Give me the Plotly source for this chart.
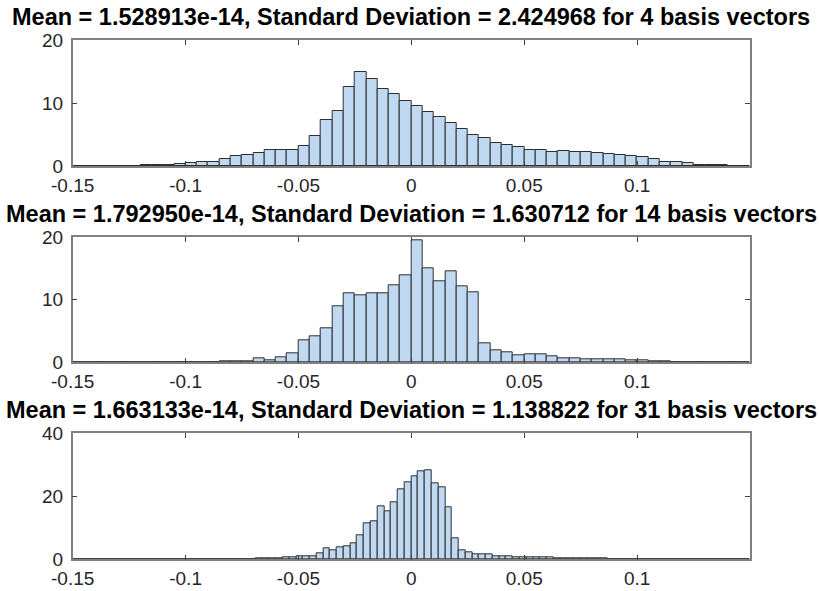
import numpy as np
import plotly.graph_objects as go
from plotly.subplots import make_subplots

# Histogram bin layout for each panel
bin_start = -0.15
bin_width_a = 0.005   # panels 1 and 2 (60 bins)
bin_width_b = 0.003   # panel 3 (100 bins)

# Bin counts (percent of samples) per panel
counts_4 = [0, 0, 0, 0, 0, 0, 0.1, 0.15, 0.2, 0.3,
            0.5, 0.6, 0.65, 1.1, 1.6, 1.8, 2.1, 2.5, 2.5, 2.5,
            3.2, 4.8, 7.3, 8.7, 12.6, 14.9, 13.8, 12.2, 11.4, 10.3,
            9.5, 8.5, 7.7, 6.8, 5.9, 5.0, 4.5, 3.65, 3.3, 3.0,
            2.6, 2.6, 2.3, 2.4, 2.2, 2.3, 2.1, 1.85, 1.8, 1.6,
            1.4, 1.05, 0.7, 0.6, 0.4, 0.2, 0.15, 0.1, 0, 0]

counts_14 = [0, 0, 0, 0, 0, 0, 0, 0, 0, 0,
             0, 0, 0.05, 0.1, 0.1, 0.2, 0.7, 0.4, 0.75, 1.5,
             3.5, 4.2, 5.4, 9.0, 11.1, 10.8, 11.0, 11.0, 12.4, 14.0,
             19.5, 15.0, 13.0, 14.5, 12.2, 11.2, 3.1, 2.0, 1.65, 1.2,
             1.25, 1.35, 1.0, 0.7, 0.65, 0.45, 0.55, 0.45, 0.45, 0.4,
             0.25, 0.15, 0.1, 0.05, 0.05, 0.05, 0.02, 0.02, 0, 0]

counts_31 = [0] * 22 + [
    0.05, 0.05, 0.1, 0.1, 0.15, 0.2, 0.2, 0.3, 0.4, 0.5,
    0.6, 1.0, 0.85, 0.85, 1.9, 3.5, 3.0, 3.8, 4.1, 5.0,
    7.5, 11.4, 12.2, 16.9, 15.3, 18.0, 22.2, 24.4,
    26.5, 27.8, 28.4, 24.0, 23.0, 16.5, 6.6, 3.0, 2.1, 1.5,
    1.5, 1.5, 1.05, 0.85, 0.85, 0.75, 0.7, 0.6, 0.55, 0.5,
    0.5, 0.45, 0.4, 0.4, 0.35, 0.3, 0.3, 0.25, 0.2, 0.15,
    0.1, 0.1, 0.05, 0.05, 0.02, 0.02, 0.02] + [0] * 13

titles = [
    "Mean = 1.528913e-14, Standard Deviation = 2.424968 for 4 basis vectors",
    "Mean = 1.792950e-14, Standard Deviation = 1.630712 for 14 basis vectors",
    "Mean = 1.663133e-14, Standard Deviation = 1.138822 for 31 basis vectors",
]

x_ticks = [-0.15, -0.1, -0.05, 0, 0.05, 0.1]
x_tick_text = ["-0.15", "-0.1", "-0.05", "0", "0.05", "0.1"]
y_ranges = [[0, 20], [0, 20], [0, 40]]
y_ticks = [[0, 10, 20], [0, 10, 20], [0, 20, 40]]

panels = [(counts_4, bin_width_a), (counts_14, bin_width_a), (counts_31, bin_width_b)]

FILL = "#bfd9f2"
EDGE = "#2e2e2e"
AXIS = "#808080"
FONT = "Liberation Sans, Arial, sans-serif"

W, H = 819, 591
x_dom = [72.7 / W, 750 / W]
y_boxes = [(40, 166), (237.3, 362.3), (433.3, 559.3)]

fig = make_subplots(rows=3, cols=1)

for i, (counts, bw) in enumerate(panels):
    centers = bin_start + bw * (np.arange(len(counts)) + 0.5)
    fig.add_trace(
        go.Bar(
            x=centers, y=counts, width=bw,
            marker=dict(color=FILL, line=dict(color=EDGE, width=1)),
            showlegend=False, hoverinfo="x+y",
        ),
        row=i + 1, col=1,
    )
    top, bot = y_boxes[i]
    xa = "xaxis" if i == 0 else f"xaxis{i + 1}"
    ya = "yaxis" if i == 0 else f"yaxis{i + 1}"
    fig.layout[xa].update(
        domain=x_dom, range=[-0.15, 0.15], automargin=False,
        tickvals=x_ticks, ticktext=x_tick_text,
        ticks="inside", ticklen=5, tickcolor="#404040", tickwidth=1,
        showline=True, linecolor=AXIS, linewidth=1.5, mirror="ticks",
        showgrid=False, zeroline=False, ticklabelstandoff=1,
        tickfont=dict(family=FONT, size=19, color="#262626"),
    )
    fig.layout[ya].update(
        domain=[1 - bot / H, 1 - top / H], range=y_ranges[i], automargin=False,
        tickvals=y_ticks[i],
        ticks="inside", ticklen=5, tickcolor="#404040", tickwidth=1,
        showline=True, linecolor=AXIS, linewidth=1.5, mirror="ticks",
        showgrid=False, zeroline=False, ticklabelstandoff=4,
        tickfont=dict(family=FONT, size=19, color="#262626"),
    )
    fig.add_annotation(
        text=f"<b>{titles[i]}</b>", xref="paper", yref="paper",
        x=(x_dom[0] + x_dom[1]) / 2, y=1 - (top - 23) / H,
        xanchor="center", yanchor="middle", showarrow=False,
        font=dict(family=FONT, size=23.5, color="#000000"),
    )

fig.update_layout(
    template="none",
    width=W, height=H,
    margin=dict(l=0, r=0, t=0, b=0),
    paper_bgcolor="white", plot_bgcolor="white",
    bargap=0, showlegend=False,
)

fig.write_html("out.html")
